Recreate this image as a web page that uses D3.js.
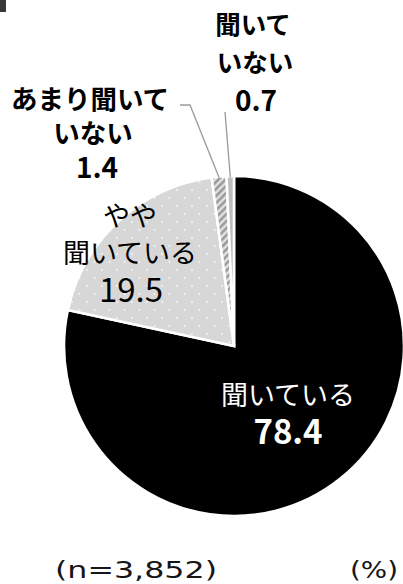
<!DOCTYPE html>
<html>
<head>
<meta charset="utf-8">
<script src="https://cdn.jsdelivr.net/npm/d3@7"></script>
<style>
  html, body { margin: 0; padding: 0; background: #fff; }
  svg { display: block; }
  text { font-family: "Noto Sans CJK JP", "Noto Sans", sans-serif; }
</style>
</head>
<body>
<svg id="chart" width="403" height="584"></svg>
<script>
// Answer shares (%)
const categories = ["聞いている", "やや聞いている", "あまり聞いていない", "聞いていない"];
const values = [78.4, 19.5, 1.4, 0.7];
// Text of each label, line by line (last line is the value)
const labelLines = [
  ["聞いている", "78.4"],
  ["やや", "聞いている", "19.5"],
  ["あまり聞いて", "いない", "1.4"],
  ["聞いて", "いない", "0.7"]
];
const sampleNote = "(n=3,852)";
const unitNote = "(%)";

const svg = d3.select("#chart");
const cx = 234, cy = 346, R = 170;

// fills
const defs = svg.append("defs");
const dots = defs.append("pattern")
  .attr("id", "dots").attr("patternUnits", "userSpaceOnUse")
  .attr("width", 15).attr("height", 16);
dots.append("rect").attr("width", 15).attr("height", 16).attr("fill", "#d7d7d7");
dots.append("circle").attr("cx", 3).attr("cy", 4).attr("r", 1.1).attr("fill", "#f4f4f4");
dots.append("circle").attr("cx", 10.5).attr("cy", 12).attr("r", 1.1).attr("fill", "#f4f4f4");

const hatch = defs.append("pattern")
  .attr("id", "hatch").attr("patternUnits", "userSpaceOnUse")
  .attr("width", 5).attr("height", 5)
  .attr("patternTransform", "rotate(45)");
hatch.append("rect").attr("width", 5).attr("height", 5).attr("fill", "#e4e4e4");
hatch.append("rect").attr("width", 2.6).attr("height", 5).attr("fill", "#9a9a9a");

const fills = ["#000000", "url(#dots)", "url(#hatch)", "#bdbdbd"];

// small mark at the top-left corner
svg.append("rect").attr("x", 0).attr("y", 0).attr("width", 6).attr("height", 12).attr("fill", "#383838");

const pie = d3.pie().sort(null).value(d => d)(values);
const arc = d3.arc().innerRadius(0).outerRadius(R);

const g = svg.append("g").attr("transform", `translate(${cx},${cy})`);
g.selectAll("path.slice")
  .data(pie)
  .join("path")
  .attr("class", "slice")
  .attr("d", arc)
  .attr("fill", (d, i) => fills[i])
  .attr("stroke", "#fff")
  .attr("stroke-width", 2.6)
  .attr("stroke-linejoin", "miter");

// leader lines for the two thin slices
const edgePoint = (d, r) => {
  const a = (d.startAngle + d.endAngle) / 2;
  return [cx + r * Math.sin(a), cy - r * Math.cos(a)];
};
const leaders = [
  { i: 2, pts: [[180, 105], [190, 105]] },
  { i: 3, pts: [[225, 112]] }
];
leaders.forEach(l => {
  const end = edgePoint(pie[l.i], R - 1);
  svg.append("path")
    .attr("d", d3.line()([...l.pts, end]))
    .attr("fill", "none")
    .attr("stroke", "#9a9a9a")
    .attr("stroke-width", 1.3);
});

// labels: anchor x, center y of first line, line gap, text size, value size,
// colour, weight and horizontal nudge of each line
const labelLayout = [
  { x: 288, y: 395, gap: 37, size: 27, num: 33, color: "#fff", weights: [400, 700], dx: [0, 0] },
  { x: 130, y: 216, gap: 37, size: 27, num: 33, color: "#000", weights: [400, 400, 400], dx: [0, 0, 1] },
  { x: 90, y: 99, gap: 34.5, size: 26.5, num: 28, color: "#000", weights: [700, 700, 700], dx: [0, 3, 7] },
  { x: 253, y: 25, gap: 38, size: 25.5, num: 28, color: "#000", weights: [700, 700, 700], dx: [0, 2, 3] }
];
labelLines.forEach((lines, i) => {
  const L = labelLayout[i];
  const t = svg.append("text")
    .attr("text-anchor", "middle")
    .attr("fill", L.color);
  lines.forEach((s, k) => {
    const isValue = k === lines.length - 1;
    t.append("tspan")
      .attr("x", L.x + L.dx[k])
      .attr("y", L.y + k * L.gap)
      .attr("dy", "0.36em")
      .attr("font-size", isValue ? L.num : L.size)
      .attr("font-weight", L.weights[k])
      .text(s);
  });
});

// notes under the pie (wide lettering)
svg.append("text")
  .attr("x", 55).attr("y", 578)
  .style("font-family", "'DejaVu Sans', sans-serif")
  .attr("font-size", 23)
  .attr("textLength", 162).attr("lengthAdjust", "spacingAndGlyphs")
  .attr("fill", "#161616")
  .text(sampleNote);
svg.append("text")
  .attr("x", 350).attr("y", 578)
  .style("font-family", "'DejaVu Sans', sans-serif")
  .attr("font-size", 23)
  .attr("textLength", 48).attr("lengthAdjust", "spacingAndGlyphs")
  .attr("fill", "#161616")
  .text(unitNote);
</script>
</body>
</html>
